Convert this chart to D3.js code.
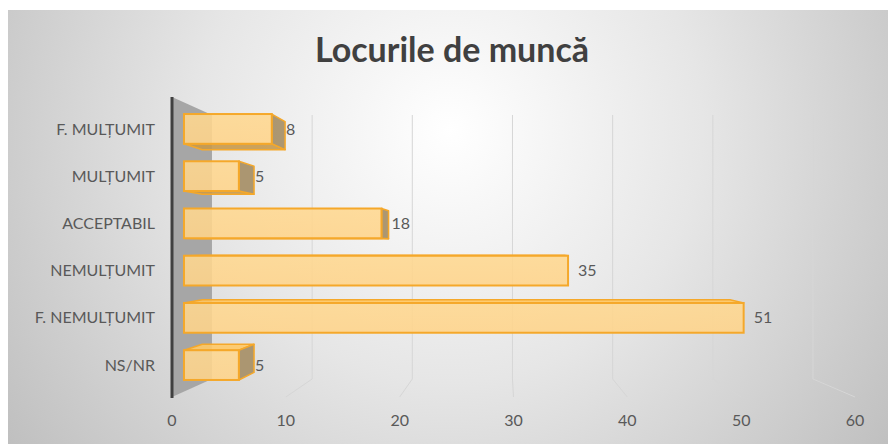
<!DOCTYPE html>
<html lang="ro">
<head>
<meta charset="utf-8">
<title>Locurile de muncă</title>
<script src="https://cdn.jsdelivr.net/npm/d3@7"></script>
<style>
  body { margin: 0; background: #fff; }
  text { font-family: Lato, "Open Sans", sans-serif; fill: #595959; }
</style>
</head>
<body>
<div id="chart"></div>
<script>
// data
var categories = ["F. MULȚUMIT", "MULȚUMIT", "ACCEPTABIL", "NEMULȚUMIT", "F. NEMULȚUMIT", "NS/NR"];
var values = [8, 5, 18, 35, 51, 5];
var xTicks = [0, 10, 20, 30, 40, 50, 60];
var title = "Locurile de muncă";

var width = 888, height = 444;

var svg = d3.select("#chart").append("svg")
    .attr("width", width)
    .attr("height", height);

var defs = svg.append("defs");
var bg = defs.append("radialGradient")
    .attr("id", "bg")
    .attr("gradientUnits", "userSpaceOnUse")
    .attr("cx", 450).attr("cy", 130).attr("r", 560);
bg.append("stop").attr("offset", "0").attr("stop-color", "#ffffff");
bg.append("stop").attr("offset", "0.45").attr("stop-color", "#e6e6e6");
bg.append("stop").attr("offset", "1").attr("stop-color", "#bdbdbd");

var barGrad = defs.append("linearGradient")
    .attr("id", "barFront")
    .attr("x1", 0).attr("y1", 0).attr("x2", 0).attr("y2", 1);
barGrad.append("stop").attr("offset", "0").attr("stop-color", "#ffd890");
barGrad.append("stop").attr("offset", "1").attr("stop-color", "#ffd48a");

svg.append("rect")
    .attr("x", 8).attr("y", 10)
    .attr("width", width - 8).attr("height", height - 10)
    .attr("fill", "url(#bg)");

// front plane scales, then a simple perspective projection toward (vx, vy)
var x = d3.scaleLinear().domain([0, 60]).range([172, 855]);
var y = d3.scaleBand().domain(categories).range([100, 394])
    .paddingInner(0.37).paddingOuter(0.185);
var plotTop = 97, plotBottom = 397;
var vx = 505, vy = 247;
var sWall = 0.88, sBarFront = 0.964, sBarBack = 0.909;

function proj(px, py, s) {
  return [vx + (px - vx) * s, vy + (py - vy) * s];
}
function pts(list) {
  return list.map(function(p) { return p.join(","); }).join(" ");
}

// side wall
svg.append("polygon")
    .attr("points", pts([
      proj(x(0), plotTop, 1), proj(x(0), plotTop, sWall),
      proj(x(0), plotBottom, sWall), proj(x(0), plotBottom, 1)
    ]))
    .attr("fill", "#a6a6a6");

// gridlines on back wall + floor
svg.selectAll("polyline.grid")
    .data(xTicks.slice(1))
    .enter().append("polyline")
    .attr("class", "grid")
    .attr("points", function(t) {
      return pts([proj(x(t), plotBottom, 1), proj(x(t), plotBottom, sWall), proj(x(t), plotTop, sWall)]);
    })
    .attr("fill", "none")
    .attr("stroke", "#d6d6d6")
    .attr("stroke-width", 1);

// vertical axis line
svg.append("line")
    .attr("x1", x(0)).attr("x2", x(0))
    .attr("y1", plotTop).attr("y2", plotBottom + 1)
    .attr("stroke", "#404040")
    .attr("stroke-width", 3);

// bars
var bars = svg.selectAll("g.bar")
    .data(categories.map(function(c, i) { return { cat: c, val: values[i] }; }))
    .enter().append("g")
    .attr("class", "bar");

bars.each(function(d) {
  var g = d3.select(this);
  var x0 = x(0), x1 = x(d.val), y0 = y(d.cat), y1 = y(d.cat) + y.bandwidth();
  var F = function(a, b) { return proj(a, b, sBarFront); };
  var B = function(a, b) { return proj(a, b, sBarBack); };
  var stroke = "#f5a82a";
  if (y0 + y.bandwidth() / 2 > vy) {
    g.append("polygon")
      .attr("points", pts([F(x0, y0), F(x1, y0), B(x1, y0), B(x0, y0)]))
      .attr("fill", "#ffc966").attr("fill-opacity", 0.9)
      .attr("stroke", stroke).attr("stroke-width", 1.5).attr("stroke-linejoin", "round");
  } else {
    g.append("polygon")
      .attr("points", pts([F(x0, y1), F(x1, y1), B(x1, y1), B(x0, y1)]))
      .attr("fill", "#c89a4c").attr("fill-opacity", 0.9)
      .attr("stroke", stroke).attr("stroke-width", 1.5).attr("stroke-linejoin", "round");
  }
  if (x1 < vx) {
    g.append("polygon")
      .attr("points", pts([F(x1, y0), B(x1, y0), B(x1, y1), F(x1, y1)]))
      .attr("fill", "#a8916a").attr("fill-opacity", 0.95)
      .attr("stroke", stroke).attr("stroke-width", 1.5).attr("stroke-linejoin", "round");
  }
  var f0 = F(x0, y0), f1 = F(x1, y1);
  g.append("rect")
    .attr("x", f0[0]).attr("y", f0[1])
    .attr("width", f1[0] - f0[0]).attr("height", f1[1] - f0[1])
    .attr("fill", "url(#barFront)").attr("fill-opacity", 0.88)
    .attr("stroke", stroke).attr("stroke-width", 2);

  var labelX = Math.max(F(x1, y0)[0] + 10, B(x1, y0)[0] + 1);
  g.append("text")
    .attr("x", labelX)
    .attr("y", (f0[1] + f1[1]) / 2)
    .attr("dy", "0.35em")
    .style("font-size", "16px")
    .text(d.val);
});

// category labels
svg.selectAll("text.cat")
    .data(categories)
    .enter().append("text")
    .attr("class", "cat")
    .attr("x", 155)
    .attr("y", function(c) { return proj(x(0), y(c) + y.bandwidth() / 2, sBarFront)[1]; })
    .attr("dy", "0.35em")
    .attr("text-anchor", "end")
    .style("font-size", "16px")
    .text(function(c) { return c; });

// x tick labels
svg.selectAll("text.tick")
    .data(xTicks)
    .enter().append("text")
    .attr("class", "tick")
    .attr("x", function(t) { return x(t); })
    .attr("y", 420)
    .attr("dy", "0.35em")
    .attr("text-anchor", "middle")
    .style("font-size", "16px")
    .text(function(t) { return t; });

// title
svg.append("text")
    .attr("x", 452)
    .attr("y", 50)
    .attr("dy", "0.35em")
    .attr("text-anchor", "middle")
    .style("font-size", "34px")
    .style("font-weight", "bold")
    .style("fill", "#404040")
    .text(title);
</script>
</body>
</html>
